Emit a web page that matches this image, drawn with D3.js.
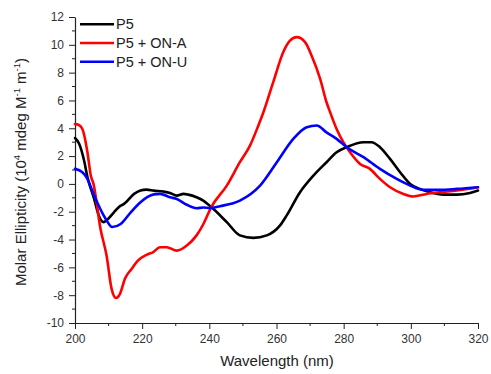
<!DOCTYPE html>
<html><head><meta charset="utf-8">
<script src="https://cdn.jsdelivr.net/npm/d3@7"></script>
<style>body{margin:0;background:#fff}svg{display:block;font-family:"Liberation Sans",Arial,sans-serif}</style>
</head><body><svg id="c" width="491" height="374"></svg>
<script>
const seriesNames = ["P5", "P5 + ON-A", "P5 + ON-U"];
const seriesColors = ["#000000", "#ff0000", "#0000ff"];
const xTicks = [200, 220, 240, 260, 280, 300, 320];
const yTicks = [-10, -8, -6, -4, -2, 0, 2, 4, 6, 8, 10, 12];

const wlP5 = [200,201.2,202.7,203.7,205.7,207.1,208.5,209.5,211.6,213.4,214.6,217.6,219.5,221.3,223.5,226.3,228.3,230.3,232.3,233.7,236.2,238.2,240.5,245.2,249.1,253.1,257.1,261,263,267,271,274.9,277.9,280.9,285.9,288.3,290.8,293.8,296.8,299.8,302.7,305.7,309.7,313.7,317.6,320];
const valP5 = [3.3,2.9,1.68,0.5,-1.08,-2.28,-2.75,-2.6,-2.04,-1.6,-1.44,-0.72,-0.48,-0.41,-0.48,-0.55,-0.65,-0.84,-0.72,-0.77,-0.96,-1.2,-1.65,-2.75,-3.7,-3.88,-3.7,-3.0,-2.28,-0.6,0.6,1.56,2.28,2.64,3.0,3.0,2.64,1.8,0.84,0,-0.36,-0.6,-0.77,-0.77,-0.65,-0.48];

const wlA = [200,201,202.2,203.7,204.7,205.5,207.6,209.4,210.9,212.2,213.4,214.9,216.9,218.8,221.3,223.3,225.3,227.3,230.3,233.3,236.2,238.2,240.5,245.2,249.1,252.1,254.6,256.1,259,262,264,266,268.5,270.5,273,274.9,275.9,277.9,279.9,281.9,284.9,287.8,290.8,293.8,297.8,300.7,304.7,308.7,313.7,320];
const valA = [4.3,4.25,3.95,2.28,0.6,0,-3.24,-5.15,-7.55,-8.2,-7.9,-6.8,-6.1,-5.5,-5.1,-4.9,-4.55,-4.55,-4.8,-4.43,-3.7,-2.9,-1.7,-0.12,1.56,2.75,4.2,5.15,7.3,9.47,10.3,10.55,10.2,9.2,7.55,5.87,5.2,3.95,3.0,2.28,1.44,1.08,0.36,-0.24,-0.72,-0.91,-0.72,-0.6,-0.48,-0.24];

const wlU = [200,202.2,203.7,205,206.6,209.1,211.1,213.6,216.6,219.5,221.5,223.5,225.3,228.3,230.3,233.3,236.2,238.2,240.2,243.2,249.1,255.1,260.1,265,269,272,274.9,277.9,280.9,285.9,290.8,295.8,299.8,303.7,308.7,313.7,320];
const valU = [1.08,0.84,0.36,-0.4,-1.32,-2.5,-3.1,-2.88,-2.04,-1.32,-0.95,-0.75,-0.72,-0.96,-1.08,-1.5,-1.75,-1.7,-1.73,-1.6,-1.2,-0.12,1.56,3.24,4.08,4.2,3.7,3.24,2.64,1.92,1.08,0.36,-0.12,-0.43,-0.43,-0.36,-0.24];

const series = [
  {name: seriesNames[0], color: seriesColors[0], wl: wlP5, v: valP5},
  {name: seriesNames[1], color: seriesColors[1], wl: wlA, v: valA},
  {name: seriesNames[2], color: seriesColors[2], wl: wlU, v: valU}
];

const svg = d3.select("#c");
const L = 75, R = 478, T = 17, B = 323;
const x = d3.scaleLinear().domain([200, 320]).range([L, R]);
const y = d3.scaleLinear().domain([-10, 12]).range([B, T]);

const axisColor = "#222";
const xMinor = d3.range(210, 320, 20);
const yMinor = d3.range(-9, 12, 2);

const gx = svg.append("g").attr("transform", `translate(0,${B})`)
  .call(d3.axisBottom(x).tickValues(xTicks).tickSize(6).tickSizeOuter(0).tickPadding(5).tickFormat(d3.format("d")));
gx.append("g").selectAll("line").data(xMinor).join("line")
  .attr("x1", d => x(d)).attr("x2", d => x(d)).attr("y1", 0).attr("y2", 3).attr("stroke", axisColor);

const gy = svg.append("g").attr("transform", `translate(${L},0)`)
  .call(d3.axisLeft(y).tickValues(yTicks).tickSize(6).tickSizeOuter(0).tickPadding(5).tickFormat(d3.format("d")));
gy.append("g").selectAll("line").data(yMinor).join("line")
  .attr("y1", d => y(d)).attr("y2", d => y(d)).attr("x1", 0).attr("x2", -3).attr("stroke", axisColor);

[gx, gy].forEach(g => {
  g.selectAll(".domain").attr("stroke", axisColor).attr("stroke-width", 1.2);
  g.selectAll(".tick line").attr("stroke", axisColor);
  g.selectAll(".tick text").attr("font-size", 12).attr("fill", "#333").attr("font-family", "Liberation Sans, Arial, sans-serif");
});
gy.selectAll(".tick text").text(d => d < 0 ? "-" + Math.abs(d) : d);

const line = d3.line().x(d => x(d[0])).y(d => y(d[1])).curve(d3.curveMonotoneX);
svg.append("g").selectAll("path").data(series).join("path")
  .attr("d", s => line(s.wl.map((w, i) => [w, s.v[i]])))
  .attr("fill", "none").attr("stroke", s => s.color).attr("stroke-width", 2.6)
  .attr("stroke-linejoin", "round").attr("stroke-linecap", "round");

const lg = svg.append("g");
series.forEach((s, i) => {
  const yy = 24.3 + i * 18.7;
  lg.append("line").attr("x1", 80).attr("x2", 114).attr("y1", yy).attr("y2", yy)
    .attr("stroke", s.color).attr("stroke-width", 2.6);
  lg.append("text").attr("x", 116).attr("y", yy + 5).attr("font-size", 14.5).attr("fill", "#222").text(s.name);
});

svg.append("text").attr("x", 277).attr("y", 366).attr("text-anchor", "middle")
  .attr("font-size", 15).attr("fill", "#222").text("Wavelength (nm)");

const yt = svg.append("text").attr("transform", "translate(26,172) rotate(-90)")
  .attr("text-anchor", "middle").attr("font-size", 15).attr("fill", "#222");
yt.append("tspan").text("Molar Ellipticity (10");
yt.append("tspan").attr("font-size", 9.5).attr("dy", -6).text("4");
yt.append("tspan").attr("dy", 6).text(" mdeg M");
yt.append("tspan").attr("font-size", 9.5).attr("dy", -6).text("-1");
yt.append("tspan").attr("dy", 6).text(" m");
yt.append("tspan").attr("font-size", 9.5).attr("dy", -6).text("-1");
yt.append("tspan").attr("dy", 6).text(")");
</script></body></html>
